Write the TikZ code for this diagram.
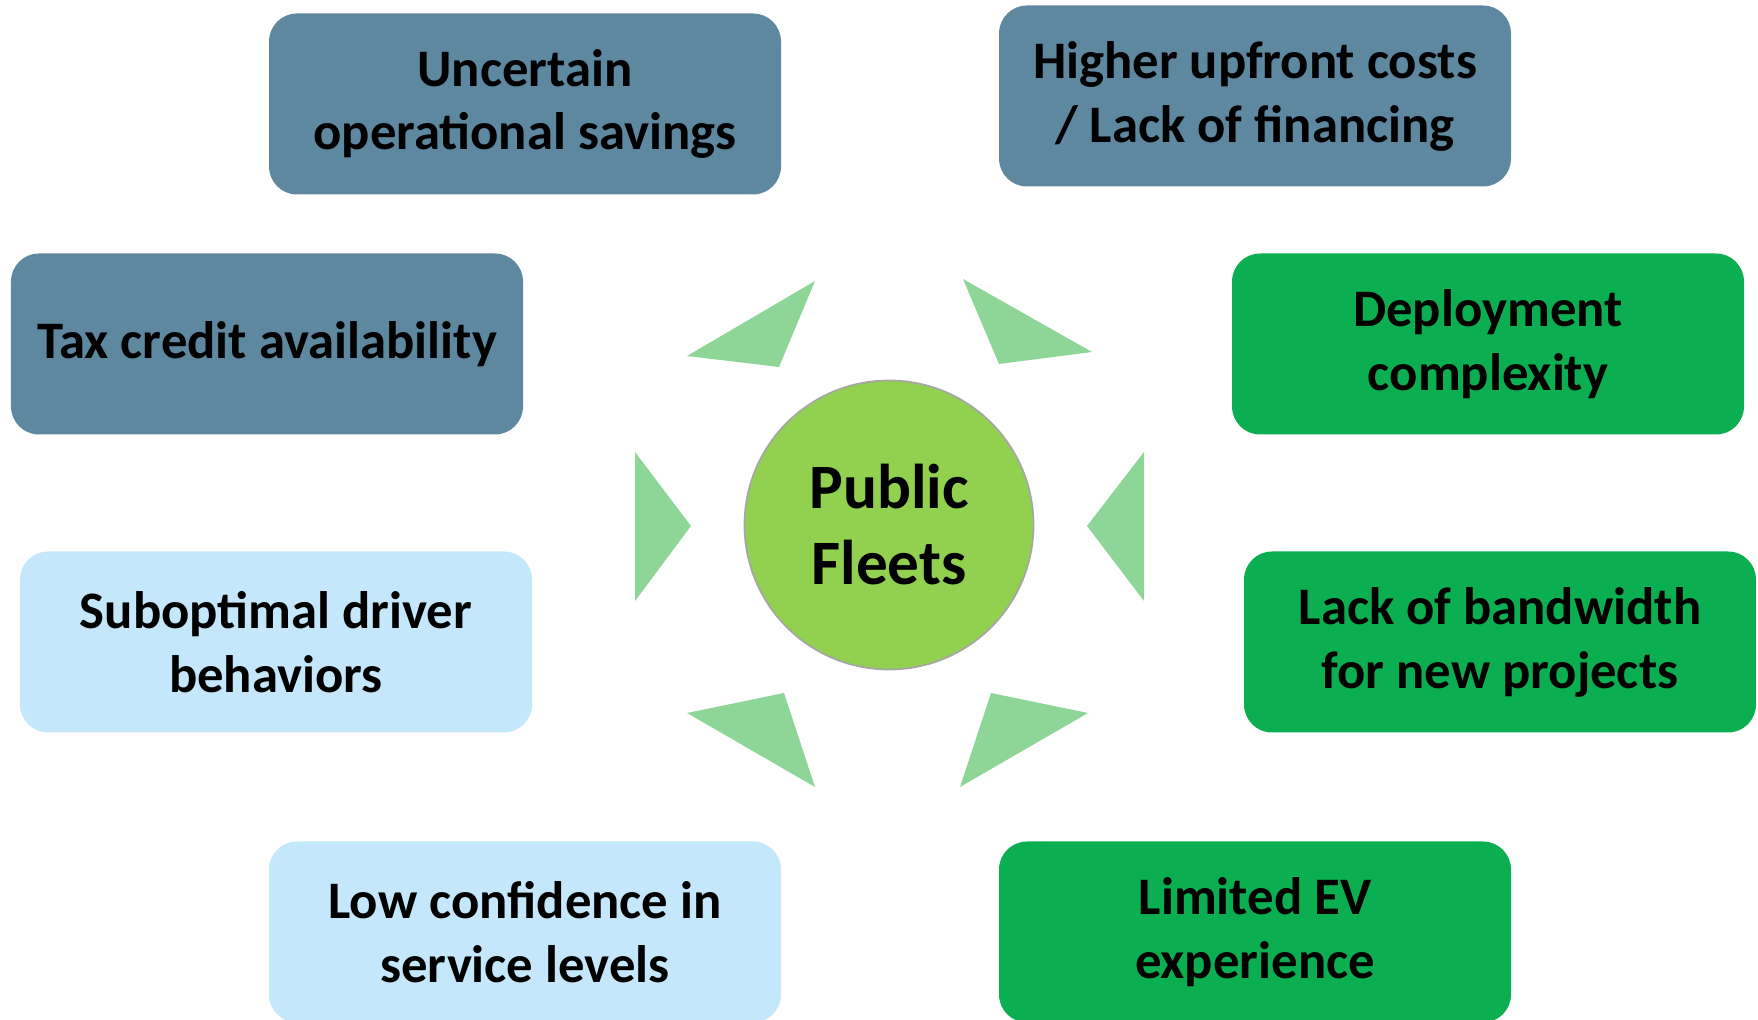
\documentclass[tikz,border=0pt]{standalone}
\usepackage{fontspec}
\setmainfont{Carlito}
\definecolor{slate}{HTML}{5E87A0}
\definecolor{paleblue}{HTML}{C4E7FB}
\definecolor{leafgreen}{HTML}{0BAF51}
\definecolor{hubgreen}{HTML}{92D050}
\definecolor{pointer}{HTML}{8ED698}

\begin{document}
\begin{tikzpicture}[
  every node/.style = {font=\fontsize{15}{18.2}\selectfont\bfseries, text=black},
  barrier/.style    = {rounded corners=2.8mm, align=center, draw=none,
                       minimum width=51.2mm, minimum height=18.1mm, inner sep=2mm},
  money/.style      = {barrier, fill=slate},
  people/.style     = {barrier, fill=paleblue},
  capacity/.style   = {barrier, fill=leafgreen},
  hub/.style        = {circle, fill=hubgreen, draw=black!35, line width=0.5pt,
                       minimum size=28.9mm, align=center,
                       font=\fontsize{18}{21.6}\selectfont\bfseries},
  wedge/.style      = {fill=pointer, draw=none},
]
  \useasboundingbox (0,0) rectangle (17.58,-10.20);

  % ------------------------------------------------------------------ centre
  \node[hub] (fleets) at (8.89,-5.25) {Public\\Fleets};

  % ------------------------------------------------------------ left column
  \node[money]  (savings)  at (5.25,-1.04) {Uncertain\\operational savings};
  \node[money]  (taxcred)  at (2.67,-3.44) {Tax credit availability};
  \node[people] (drivers)  at (2.76,-6.42) {Suboptimal driver\\behaviors};
  \node[people] (service)  at (5.25,-9.32) {Low confidence in\\service levels};

  % ----------------------------------------------------------- right column
  \node[money]    (upfront)  at (12.55,-0.96) {Higher upfront costs\\/ Lack of financing};
  \node[capacity] (deploy)   at (14.88,-3.44) {Deployment\\complexity};
  \node[capacity] (bandwith) at (15.00,-6.42) {Lack of bandwidth\\for new projects};
  \node[capacity] (evexp)    at (12.55,-9.32) {Limited EV\\experience};

  % ---------------------------------------------------------------- pointers
  \fill[wedge] (6.87,-3.56) -- (8.15,-2.81) -- (7.79,-3.67) -- cycle;
  \fill[wedge] (9.63,-2.79) -- (10.92,-3.52) -- (9.99,-3.64) -- cycle;
  \fill[wedge] (6.35,-4.52) -- (6.91,-5.26) -- (6.35,-6.01) -- cycle;
  \fill[wedge] (11.44,-4.52) -- (10.87,-5.26) -- (11.44,-6.01) -- cycle;
  \fill[wedge] (6.87,-7.13) -- (7.84,-6.93) -- (8.15,-7.87) -- cycle;
  \fill[wedge] (9.91,-6.93) -- (10.88,-7.13) -- (9.60,-7.87) -- cycle;

\end{tikzpicture}
\end{document}
